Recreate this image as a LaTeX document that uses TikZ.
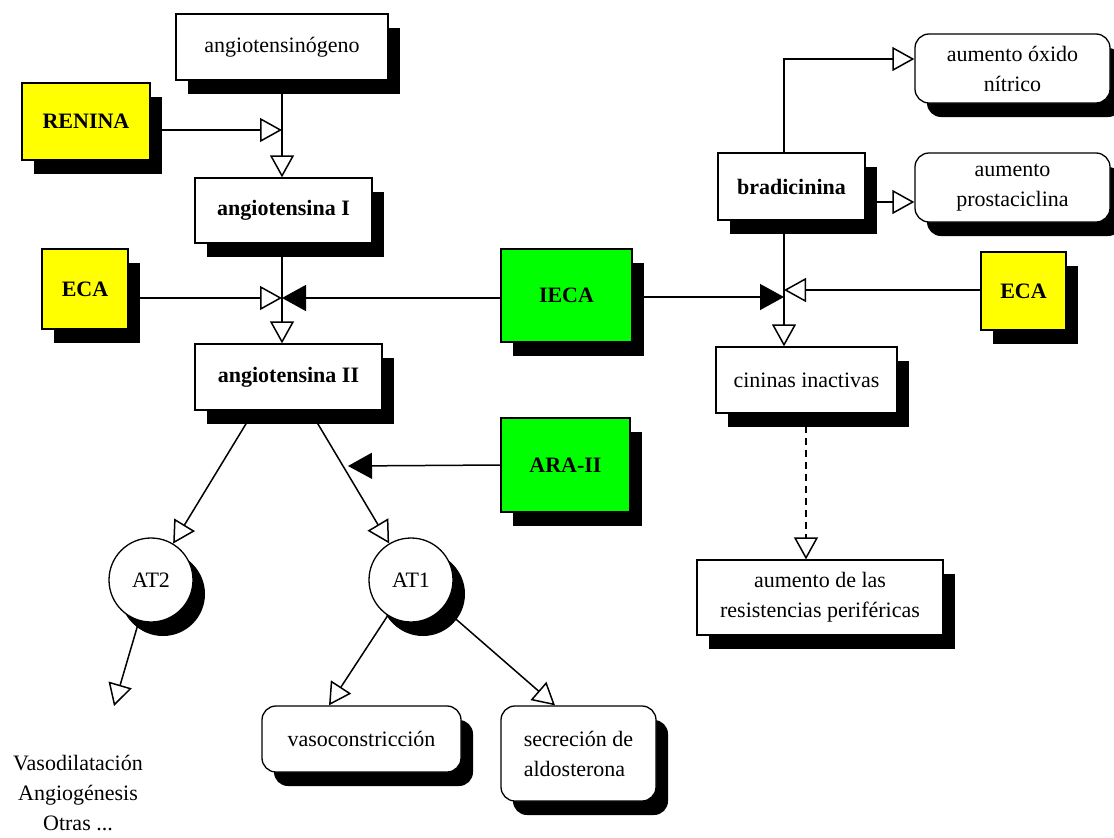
\documentclass[tikz,border=0pt]{standalone}
\usepackage{fontspec}
\setmainfont{Liberation Serif}
\usetikzlibrary{arrows.meta,shadows}
\definecolor{lemon}{HTML}{FFFF00}
\definecolor{lime}{HTML}{00FF00}
\begin{document}
\begin{tikzpicture}[x=1pt,y=-1pt,
  txt/.style={font=\fontsize{22}{30}\selectfont},
  boldtxt/.style={font=\bfseries\fontsize{22}{30}\selectfont},
  base/.style={draw, line width=1.3pt, fill=white, inner sep=2pt, align=center, txt,
    drop shadow={shadow xshift=12pt, shadow yshift=-14pt, fill=black, opacity=1}},
  sqbox/.style={base, rectangle},
  rbox/.style={base, rectangle, rounded corners=14pt},
  cbox/.style={base, circle, minimum size=84pt, inner sep=0pt,
    drop shadow={shadow xshift=11pt, shadow yshift=-13pt, fill=black, opacity=1}},
  link/.style={line width=1.5pt},
  flow/.style={link, -{Triangle[open, length=22pt, width=24pt]}},
  block/.style={link, -{Triangle[length=24pt, width=26pt]}},
]
\useasboundingbox (0,0) rectangle (1114,838);

% renin-angiotensin branch
\node[sqbox, minimum width=212pt, minimum height=66pt] (agen) at (282,47) {angiotensinógeno};
\node[sqbox, boldtxt, fill=lemon, minimum width=128pt, minimum height=77pt] (renina) at (86,121.5) {RENINA};
\node[sqbox, boldtxt, minimum width=177pt, minimum height=65pt] (angI) at (283.5,210.5) {angiotensina I};
\node[sqbox, boldtxt, fill=lemon, minimum width=86pt, minimum height=80pt] (ecaL) at (85,289) {ECA};
\node[sqbox, boldtxt, minimum width=187pt, minimum height=66pt] (angII) at (288.5,377) {angiotensina II};
\node[sqbox, boldtxt, fill=lime, minimum width=131pt, minimum height=93pt] (ieca) at (566.5,295.5) {IECA};
\node[sqbox, boldtxt, fill=lime, minimum width=129pt, minimum height=94pt] (ara) at (565.5,465) {ARA-II};

% receptors and their effects
\node[cbox] (AT2) at (151,580) {AT2};
\node[cbox] (AT1) at (411,580) {AT1};
\node[rbox, minimum width=199pt, minimum height=66pt] (vaso) at (361.5,739) {vasoconstricción};
\node[rbox, align=left, minimum width=155pt, minimum height=95pt] (sec) at (578.5,753.5) {secreción de\\aldosterona};
\node[txt, align=center, inner sep=1pt] (otras) at (78,793) {Vasodilatación\\Angiogénesis\\Otras ...};

% kinin branch
\node[sqbox, boldtxt, minimum width=147pt, minimum height=67pt] (brad) at (791.5,186.5) {bradicinina};
\node[rbox, minimum width=195pt, minimum height=69pt] (oxi) at (1012.5,68.5) {aumento óxido\\nítrico};
\node[rbox, minimum width=195pt, minimum height=69pt] (pros) at (1012.5,187.5) {aumento\\prostaciclina};
\node[sqbox, boldtxt, fill=lemon, minimum width=85pt, minimum height=78pt] (ecaR) at (1023.5,291) {ECA};
\node[sqbox, minimum width=181pt, minimum height=66pt] (cin) at (806.5,380) {cininas inactivas};
\node[sqbox, minimum width=246pt, minimum height=75pt] (res) at (820,597.5) {aumento de las\\resistencias periféricas};

% junctions and free ends
\coordinate (j1) at (282,130);
\coordinate (j2) at (282,298);
\coordinate (j3) at (784,297);
\coordinate (j4) at (784,290);
\coordinate (bend) at (784,59);
\coordinate (pr) at (865,202);
\coordinate (araT) at (348,466);
\coordinate (at2T) at (114,706);

% connectors
\draw[flow] (agen.south -| j1) -- (angI.north -| j1);
\draw[flow] (renina.east |- j1) -- (j1);
\draw[flow] (angI.south -| j2) -- (angII.north -| j2);
\draw[flow] (ecaL.east |- j2) -- (j2);
\draw[block] (ieca.west |- j2) -- (j2);
\draw[block] (ieca.east |- j3) -- (j3);
\draw[flow] (ecaR.west |- j4) -- (j4);
\draw[flow] (brad.south -| j3) -- (cin.north -| j3);
\draw[flow] (brad.north -| j3) -- (bend) -- (oxi.west |- bend);
\draw[flow] (brad.east |- pr) -- (pros.west |- pr);
\draw[block] (ara.west) -- (araT);
\draw[flow] (angII.south -| 254,0) -- (AT2);
\draw[flow] (angII.south -| 310,0) -- (AT1);
\draw[flow] (AT2) -- (at2T);
\draw[flow] (AT1) -- (vaso.north -| 329,0);
\draw[flow] (AT1) -- (sec.north -| 555,0);
\draw[flow, dash pattern=on 7pt off 5pt] (cin.south -| 806,0) -- (res.north -| 806,0);
\end{tikzpicture}
\end{document}
